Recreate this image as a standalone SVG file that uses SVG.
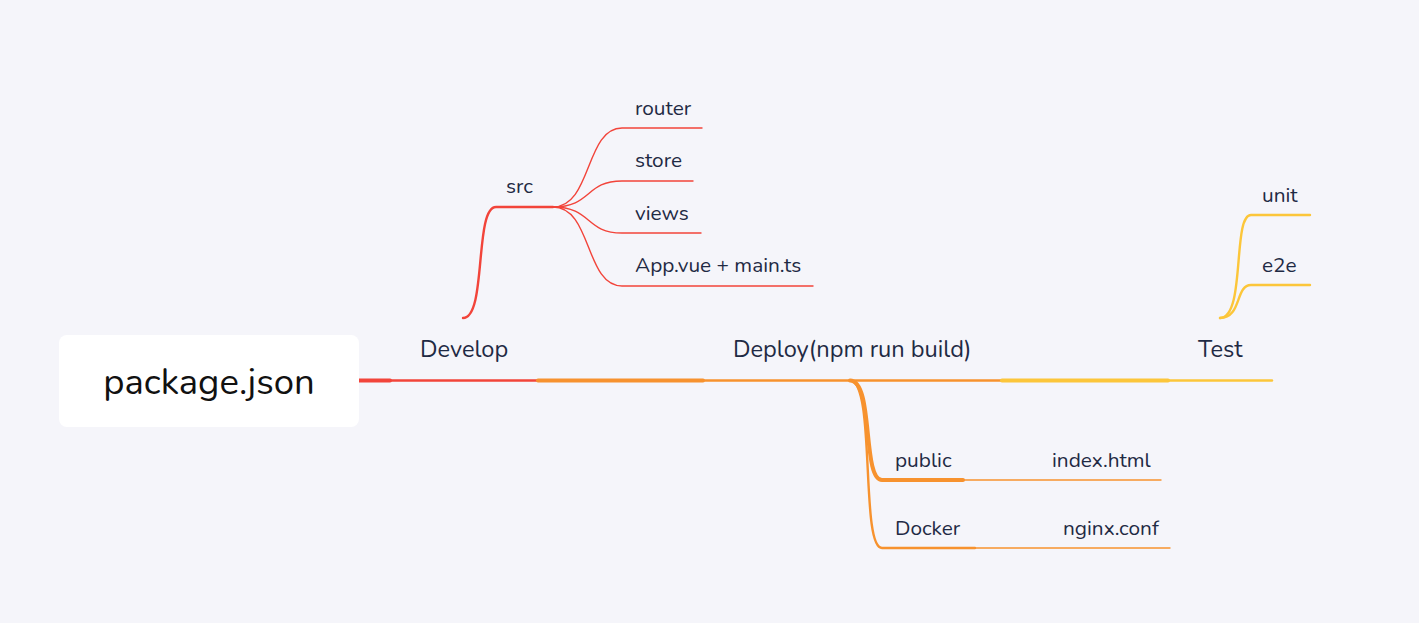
<svg xmlns="http://www.w3.org/2000/svg" width="1419" height="623" viewBox="0 0 1419 623">
<style>
.t{font-family:"Nunito","Open Sans","Noto Sans",sans-serif;fill:#1f2a44;font-size:23.6px}
.s{font-size:20.8px}
.red{stroke:#f2443a;fill:none;stroke-linecap:round}
.org{stroke:#f7922e;fill:none;stroke-linecap:round}
.yel{stroke:#fcc63a;fill:none;stroke-linecap:round}
.w4{stroke-width:4}
.w3{stroke-width:2.4}
.w1{stroke-width:1.4}
</style>
<rect width="1419" height="623" fill="#f5f5fa"/>
<g id="connectors">
<path class="red w4" d="M359,380.5 H390"/>
<path class="red w3" d="M390,380.5 H538"/>
<path class="org w4" d="M538,380.5 H703"/>
<path class="org w3" d="M703,380.5 H1002"/>
<path class="yel w4" d="M1002,380.5 H1168"/>
<path class="yel w3" d="M1168,380.5 H1272"/>
<path class="red w3" d="M463,318 C487,318 474,207 496,207 H553"/>
<path class="red w1" d="M553,207 C592,207 585,128 622,128 H702"/>
<path class="red w1" d="M553,207 C592,207 585,181 622,181 H693"/>
<path class="red w1" d="M553,207 C592,207 585,233 622,233 H701"/>
<path class="red w1" d="M553,207 C592,207 585,286 622,286 H813"/>
<path class="org w4" d="M850,380.5 C874,380.5 862,480 882,480 H963"/>
<path class="org w1" d="M963,480 H1161"/>
<path class="org w3" d="M850,380.5 C876,380.5 860,548 882,548 H975"/>
<path class="org w1" d="M975,548 H1170"/>
<path class="yel w3" d="M1220,318 C1246,318 1232,215 1251,215 H1310"/>
<path class="yel w3" d="M1220,318 C1242,318 1235,285 1251,285 H1310"/>
</g>
<g id="root">
<rect x="59" y="335" width="300" height="92" rx="8" fill="#ffffff"/>
<text x="209" y="394" text-anchor="middle" font-family="Nunito,'Open Sans','Noto Sans',sans-serif" font-size="36.5" fill="#111111">package.json</text>
</g>
<g id="develop"><text class="t" x="420" y="357">Develop</text></g>
<g id="deploy"><text class="t" x="733" y="357">Deploy(npm run build)</text></g>
<g id="test"><text class="t" x="1198" y="357">Test</text></g>
<g id="src"><text class="t s" x="506" y="193">src</text></g>
<g id="router"><text class="t s" x="635" y="115">router</text></g>
<g id="store"><text class="t s" x="635" y="167">store</text></g>
<g id="views"><text class="t s" x="635" y="220">views</text></g>
<g id="app"><text class="t s" x="635" y="272">App.vue + main.ts</text></g>
<g id="public"><text class="t s" x="895" y="467">public</text></g>
<g id="index"><text class="t s" x="1052" y="467">index.html</text></g>
<g id="docker"><text class="t s" x="895" y="535">Docker</text></g>
<g id="nginx"><text class="t s" x="1063" y="535">nginx.conf</text></g>
<g id="unit"><text class="t s" x="1262" y="202">unit</text></g>
<g id="e2e"><text class="t s" x="1262" y="272">e2e</text></g>
</svg>
